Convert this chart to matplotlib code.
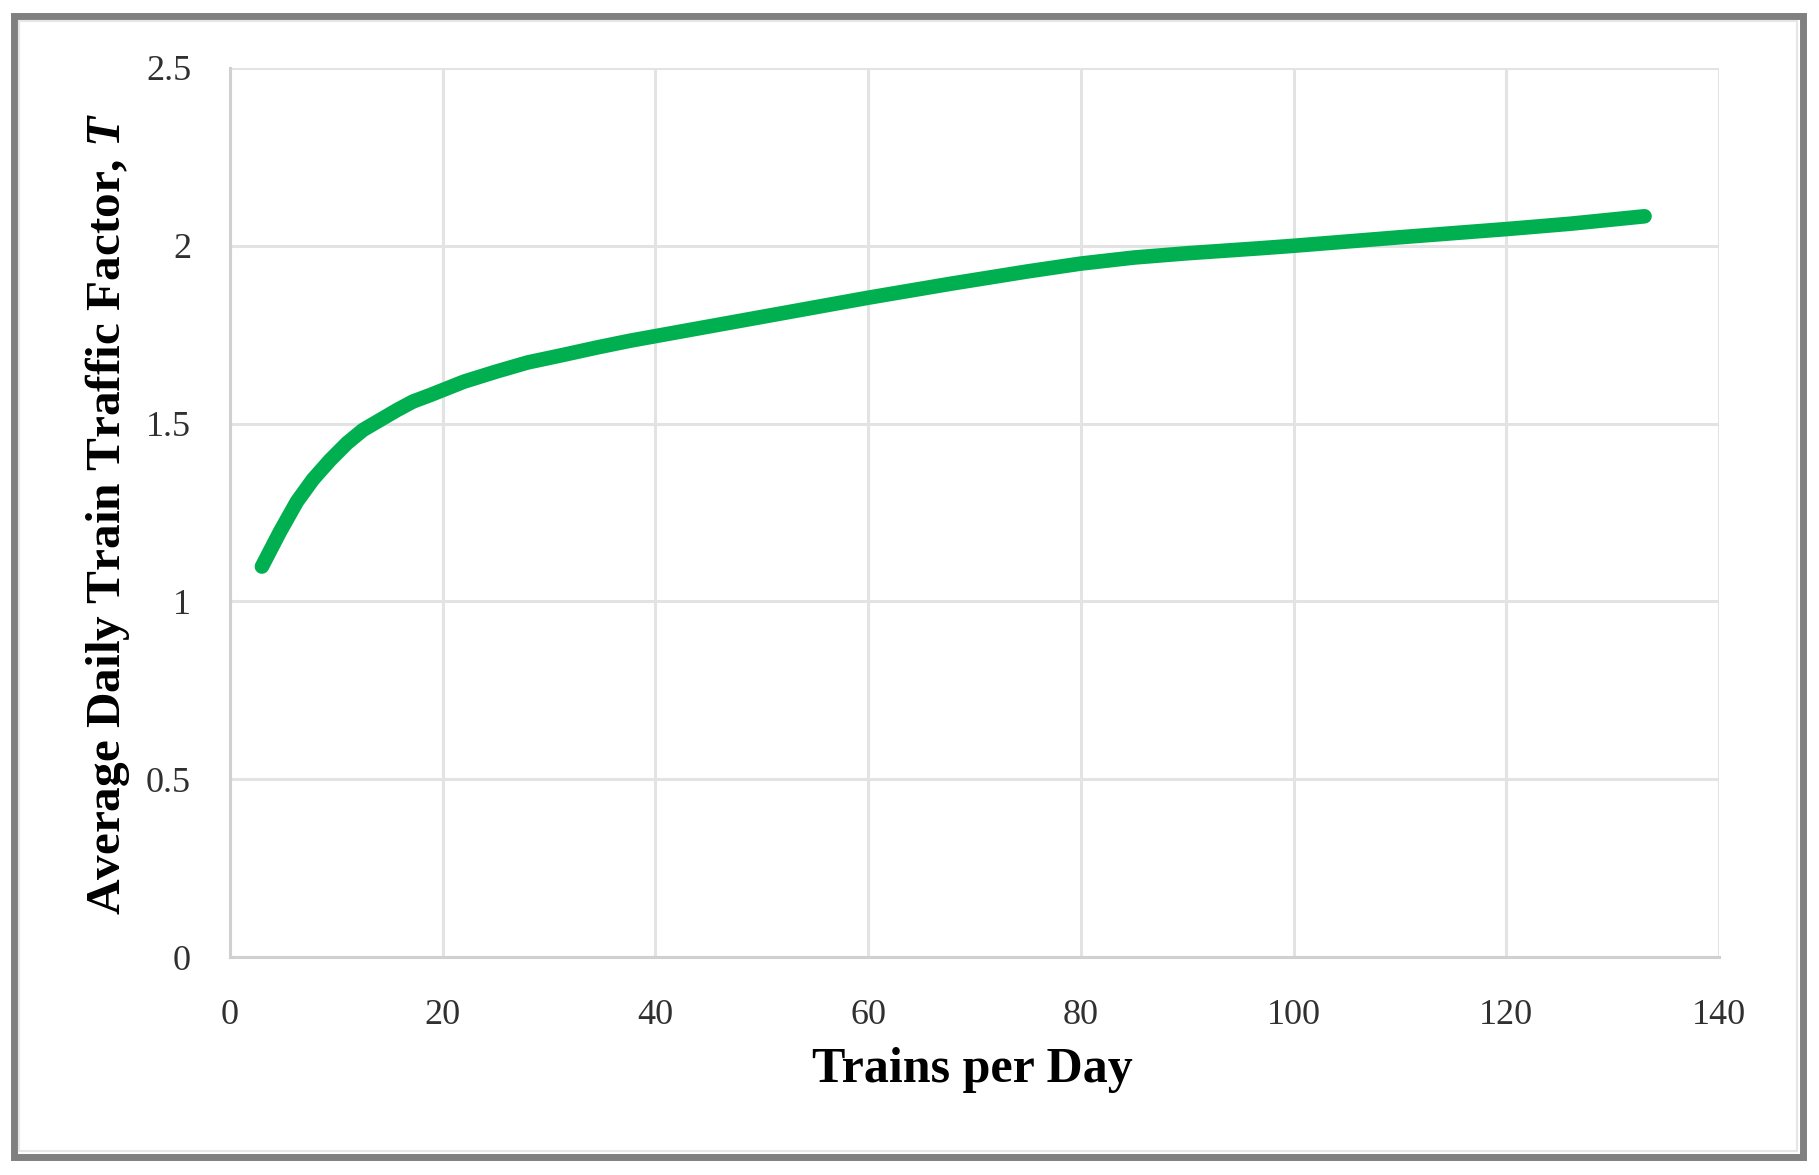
import matplotlib.pyplot as plt
from matplotlib.patches import Rectangle

# values
trains_per_day = [3, 4.7, 6.3, 7.8, 9.4, 11, 12.5, 14.1, 15.7, 17.2, 18.8, 22, 25, 28, 31.3,
                  34.5, 37.6, 40, 50, 60, 67.7, 75, 80, 85, 90, 96.8, 100, 110, 120, 126, 133]
traffic_factor = [1.098, 1.196, 1.281, 1.343, 1.397, 1.445, 1.482, 1.510, 1.538, 1.562, 1.580,
                  1.618, 1.646, 1.672, 1.693, 1.714, 1.733, 1.746, 1.80, 1.854, 1.893, 1.928,
                  1.950, 1.967, 1.979, 1.993, 2.0, 2.024, 2.047, 2.062, 2.083]
x_ticks = [0, 20, 40, 60, 80, 100, 120, 140]
y_ticks = [0, 0.5, 1, 1.5, 2, 2.5]
y_tick_labels = ['0', '0.5', '1', '1.5', '2', '2.5']

plt.rcParams['font.family'] = ['Liberation Serif', 'DejaVu Serif']
plt.rcParams['mathtext.fontset'] = 'custom'
plt.rcParams['mathtext.rm'] = 'Liberation Serif'
plt.rcParams['mathtext.it'] = 'Liberation Serif:italic'
plt.rcParams['mathtext.bf'] = 'Liberation Serif:bold'
plt.rcParams['mathtext.bfit'] = 'Liberation Serif:italic:bold'

W, H = 1819, 1175
fig = plt.figure(figsize=(W / 100, H / 100), dpi=100)
ax = fig.add_axes([230 / W, 1 - 957 / H, (1719 - 230) / W, (957 - 68) / H])

ax.plot(trains_per_day, traffic_factor, color='#00B050', lw=10.5,
        solid_capstyle='round', solid_joinstyle='round', zorder=3)

ax.set_xlim(0, 140)
ax.set_ylim(0, 2.5)
ax.set_xticks(x_ticks)
ax.set_yticks(y_ticks)
ax.set_yticklabels(y_tick_labels)
ax.grid(True, color='#e3e3e3', lw=2.2)
ax.set_axisbelow(True)
for side in ['top', 'right']:
    ax.spines[side].set_visible(False)
for side in ['left', 'bottom']:
    ax.spines[side].set_color('#d0d0d0')
    ax.spines[side].set_linewidth(2.2)
ax.tick_params(length=0, labelsize=26, labelcolor='#303030')
ax.tick_params(axis='x', pad=30)
ax.tick_params(axis='y', pad=28)

fig.text(972 / W, 1 - 1070 / H, 'Trains per Day', fontsize=36, fontweight='bold',
         ha='center', va='center')
fig.text(107 / W, 1 - (443 * 1.16) / H, 'Average Daily Train Traffic Factor, $\\mathbfit{T}$',
         fontsize=35.5, fontweight='bold', rotation=90, ha='center', va='center')

# outer frame
fig.patches.append(Rectangle((13.5 / W, 1 - 1156.5 / H), (1803 - 13.5) / W, (1156.5 - 15.5) / H,
                             transform=fig.transFigure, fill=False, ec='#808080', lw=5))
fig.patches.append(Rectangle((19 / W, 1 - 1151 / H), (1797 - 19) / W, (1151 - 21) / H,
                             transform=fig.transFigure, fill=False, ec='#e6e6e6', lw=1.5))

fig.savefig('out.png', dpi=100)
